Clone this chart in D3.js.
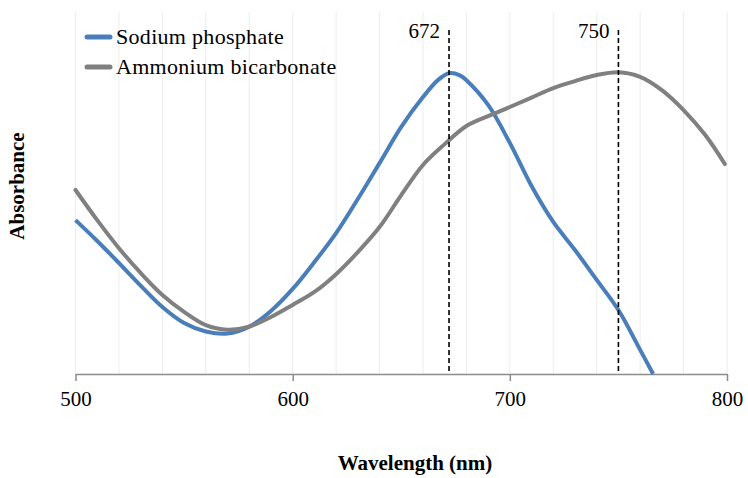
<!DOCTYPE html>
<html>
<head>
<meta charset="utf-8">
<script src="https://cdn.jsdelivr.net/npm/d3@7"></script>
<style>
  html, body { margin: 0; padding: 0; background: #fff; }
  svg { display: block; }
  text { font-family: "Liberation Serif", "Times New Roman", serif; fill: #000; }
</style>
</head>
<body>
<svg id="chart" width="748" height="478"></svg>
<script>
// ---- Data ----
const sodiumWavelength = [500,510,520,530,540,550,560,570,580,590,600,610,620,630,640,650,660,667,672,677,680,690,700,710,720,730,740,750,760,766];
const sodiumAbsorbance = [0.510,0.441,0.368,0.293,0.222,0.169,0.141,0.134,0.157,0.209,0.282,0.371,0.467,0.580,0.699,0.819,0.918,0.975,0.997,0.990,0.974,0.892,0.766,0.623,0.504,0.411,0.312,0.212,0.080,0.0];

const ammoniumWavelength = [500,510,520,530,540,550,560,570,580,590,600,610,620,630,640,650,660,670,680,690,700,710,720,730,740,750,760,770,780,790,799];
const ammoniumAbsorbance = [0.610,0.510,0.417,0.335,0.262,0.206,0.162,0.147,0.157,0.189,0.229,0.272,0.331,0.404,0.487,0.593,0.693,0.762,0.822,0.855,0.885,0.916,0.948,0.971,0.991,1.000,0.985,0.941,0.875,0.792,0.696];

const seriesNames = ["Sodium phosphate", "Ammonium bicarbonate"];
const seriesColors = ["#4a7ebb", "#808080"];
const xTickValues = [500, 600, 700, 800];
const peakMarkers = [672, 750];
const xTitle = "Wavelength (nm)";
const yTitle = "Absorbance";

// ---- Layout ----
const svg = d3.select("#chart");
const plotLeft = 75.5, plotRight = 727, plotTop = 12, plotBottom = 374;

const x = d3.scaleLinear().domain([500, 800]).range([plotLeft, plotRight]);
const y = d3.scaleLinear().domain([0, 1.2]).range([plotBottom, plotTop]);

// vertical gridlines every 20 nm
svg.append("g")
  .selectAll("line")
  .data(d3.range(500, 801, 20))
  .join("line")
  .attr("x1", d => x(d)).attr("x2", d => x(d))
  .attr("y1", plotTop).attr("y2", plotBottom)
  .attr("stroke", "#ececec").attr("stroke-width", 1);

// x axis
const xAxis = d3.axisBottom(x).tickValues(xTickValues).tickSize(7).tickSizeOuter(0).tickPadding(10);
const gx = svg.append("g").attr("transform", `translate(0,${plotBottom})`).call(xAxis);
gx.select(".domain").attr("stroke", "#8c8c8c").attr("stroke-width", 1.5);
gx.selectAll(".tick line").attr("stroke", "#8c8c8c").attr("stroke-width", 1.5);
gx.selectAll(".tick text")
  .attr("font-family", "Liberation Serif, serif")
  .attr("font-size", 21).attr("fill", "#000");

// series (drawn in legend order: blue first, gray on top)
const line = d3.line().x(d => x(d[0])).y(d => y(d[1])).curve(d3.curveCatmullRom.alpha(0.5));
const seriesData = [
  d3.zip(sodiumWavelength, sodiumAbsorbance),
  d3.zip(ammoniumWavelength, ammoniumAbsorbance)
];
seriesData.forEach((data, i) => {
  svg.append("path").datum(data)
    .attr("d", line).attr("fill", "none")
    .attr("stroke", seriesColors[i]).attr("stroke-width", 4)
    .attr("stroke-linecap", i === 0 ? "butt" : "round");
});

// peak markers
svg.append("g").selectAll("line")
  .data(peakMarkers).join("line")
  .attr("x1", d => x(d)).attr("x2", d => x(d))
  .attr("y1", 30).attr("y2", plotBottom)
  .attr("stroke", "#000").attr("stroke-width", 1.6)
  .attr("stroke-dasharray", "5,3");
svg.append("g").selectAll("text")
  .data(peakMarkers).join("text")
  .attr("x", d => x(d) - 9).attr("y", 38)
  .attr("text-anchor", "end")
  .attr("font-size", 21)
  .text(d => d);

// legend
const legend = svg.append("g");
seriesNames.forEach((name, i) => {
  const ly = 37 + i * 30;
  legend.append("line")
    .attr("x1", 87).attr("x2", 110).attr("y1", ly).attr("y2", ly)
    .attr("stroke", seriesColors[i]).attr("stroke-width", 5).attr("stroke-linecap", "round");
  legend.append("text")
    .attr("x", 116).attr("y", ly + 7)
    .attr("font-size", 22)
    .attr("letter-spacing", 0.3)
    .text(name);
});

// axis titles
svg.append("text")
  .attr("x", 415).attr("y", 470)
  .attr("text-anchor", "middle")
  .attr("font-size", 21).attr("font-weight", "bold")
  .text(xTitle);
svg.append("text")
  .attr("transform", "translate(24,186) rotate(-90)")
  .attr("text-anchor", "middle")
  .attr("font-size", 21).attr("font-weight", "bold")
  .text(yTitle);
</script>
</body>
</html>
